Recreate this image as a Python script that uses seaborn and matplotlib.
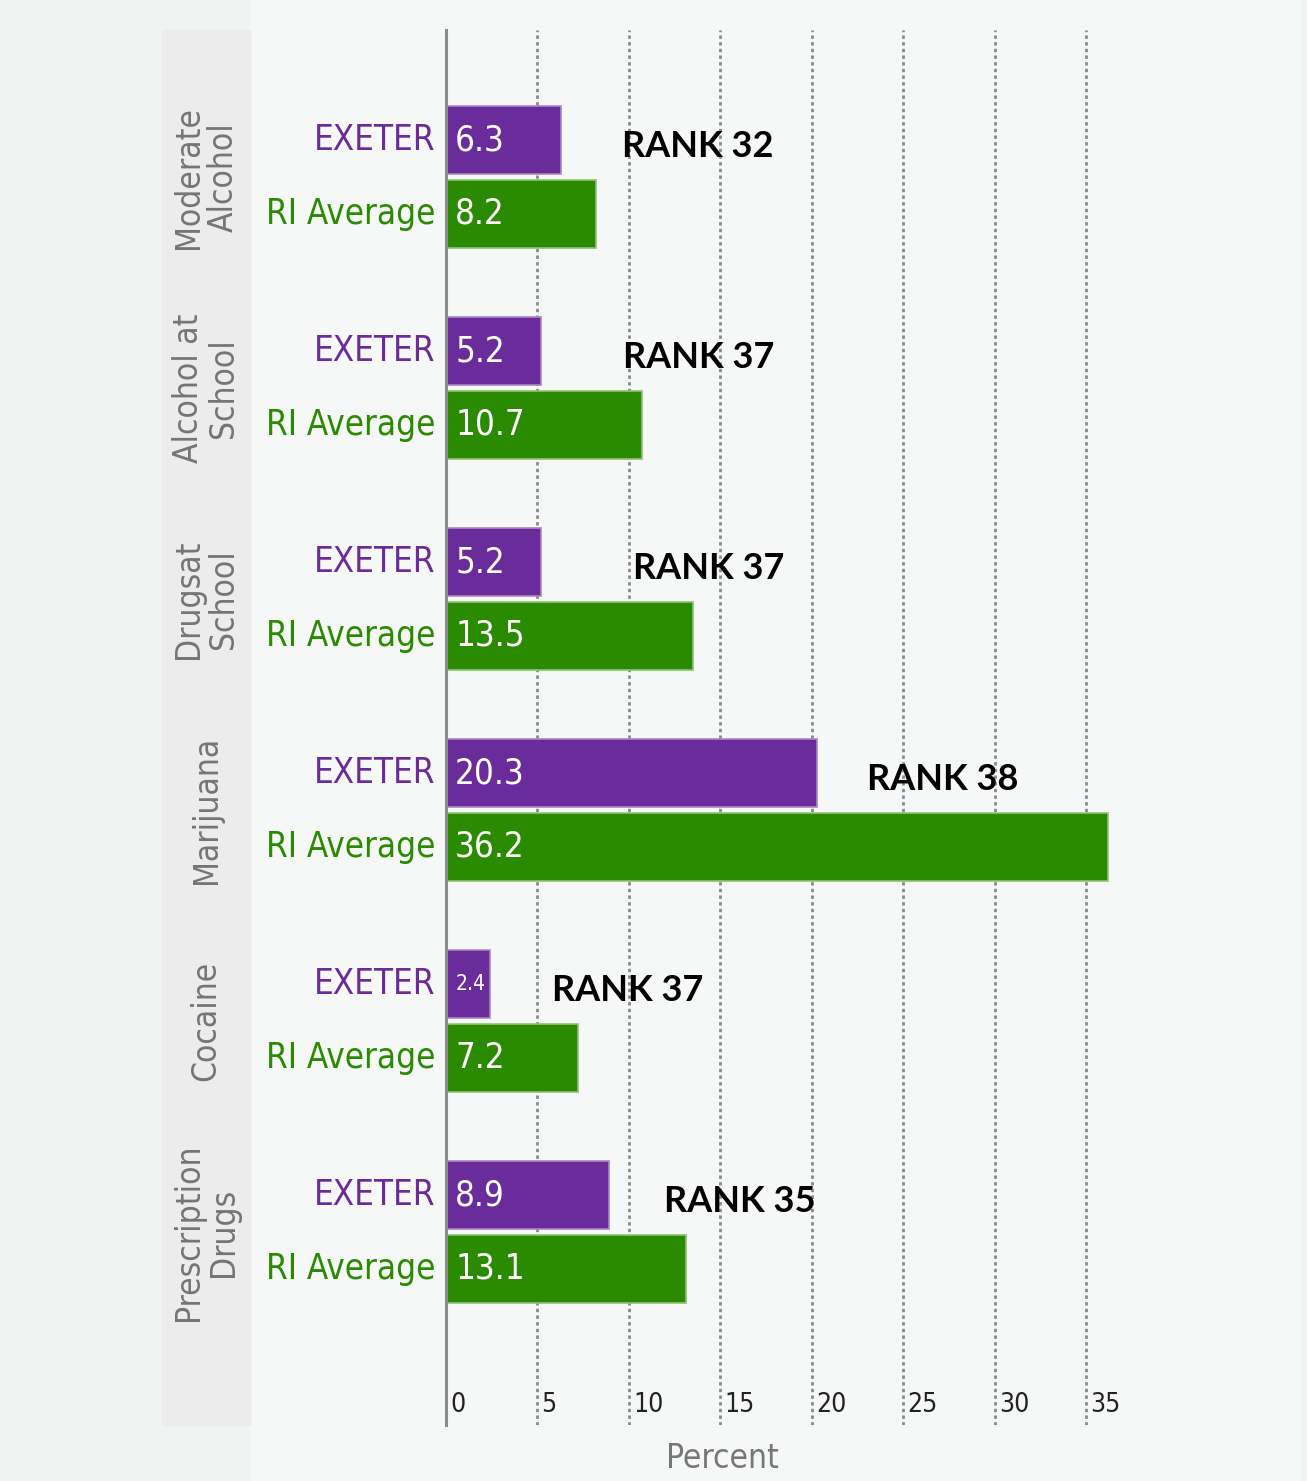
import numpy as np
import pandas as pd
import matplotlib
matplotlib.use("Agg")
import matplotlib.pyplot as plt
import matplotlib.transforms as mtransforms
from matplotlib.patches import Rectangle
import seaborn as sns

# data
categories = ["Moderate\nAlcohol", "Alcohol at\nSchool", "Drugsat\nSchool",
              "Marijuana", "Cocaine", "Prescription\nDrugs"]
series = ["EXETER", "RI Average"]
exeter = [6.3, 5.2, 5.2, 20.3, 2.4, 8.9]
ri_average = [8.2, 10.7, 13.5, 36.2, 7.2, 13.1]
ranks = [32, 37, 37, 38, 37, 35]
xticks = [0, 5, 10, 15, 20, 25, 30, 35]

# where the RANK notes sit (x in percent)
rank_x = [9.6, 9.7, 10.2, 23.0, 5.8, 11.9]

purple = "#6a2c9a"
green = "#2a8a00"
colors = [purple, green]
edge_colors = ["#a887c4", "#8fc277"]

df = pd.DataFrame({
    "category": categories * 2,
    "series": [series[0]] * len(categories) + [series[1]] * len(categories),
    "value": exeter + ri_average,
})

sns.set_theme(style="white")
# DejaVu Sans Condensed is closest to the narrow font of the original
narrow = ["DejaVu Sans", "Liberation Sans"]

W, H = 1307, 1481
fig = plt.figure(figsize=(W / 100, H / 100), dpi=100)
fig.patch.set_facecolor("#f1f2f2")

# background panels
fig.patches.append(Rectangle((250 / W, 0), 1050 / W, 1, transform=fig.transFigure,
                             color="#f6f7f7", zorder=-10))
fig.patches.append(Rectangle((162 / W, 1 - 1425 / H), 88 / W, 1395 / H,
                             transform=fig.transFigure, color="#ececec", zorder=-10))

ax_left, ax_right, ax_top, ax_bot = 446, 1120, 30, 1425
ax = fig.add_axes([ax_left / W, 1 - ax_bot / H, (ax_right - ax_left) / W, (ax_bot - ax_top) / H])
ax.set_facecolor("none")

sns.barplot(data=df, y="category", x="value", hue="series", palette=colors,
            orient="h", width=0.7, gap=0.08, legend=False, ax=ax, saturation=1,
            linewidth=1.2, zorder=3)
for cont, ec in zip(ax.containers, edge_colors):
    for bar in cont:
        bar.set_edgecolor(ec)

ax.set_xlim(0, (ax_right - ax_left) / 18.29)
ax.set_ylim(5.915, -0.697)

# grid & spines
ax.set_xticks(xticks)
ax.grid(axis="x", linestyle=(0, (1.2, 1.2)), color="#8a8a8a", linewidth=2, zorder=1)
for s in ["top", "right", "bottom"]:
    ax.spines[s].set_visible(False)
ax.spines["left"].set_color("#8c8c8c")
ax.spines["left"].set_linewidth(2.2)
ax.spines["left"].set_zorder(4)

ax.tick_params(axis="x", length=0, pad=-24, labelcolor="#222222")
ax.set_xticklabels([str(t) for t in xticks], family=narrow, stretch="condensed",
                   fontsize=19)
off = mtransforms.ScaledTranslation(4 / 100, 0, fig.dpi_scale_trans)
for lab in ax.get_xticklabels():
    lab.set_horizontalalignment("left")
    lab.set_transform(lab.get_transform() + off)

ax.set_yticks([])
ax.set_ylabel("")
ax.set_xlabel("Percent", family=narrow, stretch="condensed", fontsize=24,
              color="#777777", va="center")
ax.xaxis.set_label_coords((722 - ax_left) / (ax_right - ax_left),
                          -(1458 - ax_bot) / (ax_bot - ax_top))

# value labels inside bars, series labels on the left
for k, cont in enumerate(ax.containers):
    for i, bar in enumerate(cont):
        yc = bar.get_y() + bar.get_height() / 2
        val = bar.get_width()
        size = 15 if val < 3 else 25
        ax.text(0.5, yc, f"{val:.1f}", color="white", fontsize=size, family=narrow,
                stretch="condensed", va="center", ha="left", zorder=5)
        ax.text(-0.6, yc, series[k], color=colors[k], fontsize=25, family=narrow,
                stretch="condensed", va="center", ha="right", clip_on=False)

# category labels in the grey band
band = mtransforms.blended_transform_factory(fig.transFigure, ax.transData)
for i, cat in enumerate(categories):
    ax.text(206 / W, i, cat, transform=band, rotation=90, ha="center", va="center",
            fontsize=24, family=narrow, stretch="condensed", color="#757575",
            linespacing=1.05)

# rank notes
for i, (r, rx) in enumerate(zip(ranks, rank_x)):
    yc = ax.containers[0][i].get_y() + ax.containers[0][i].get_height() / 2
    ax.text(rx, yc + 0.03, f"RANK {r}", fontsize=26, fontweight="bold",
            family=["Lato", "DejaVu Sans"], color="black", va="center", ha="left", zorder=6)

fig.savefig("out.png", dpi=100, facecolor=fig.get_facecolor())
